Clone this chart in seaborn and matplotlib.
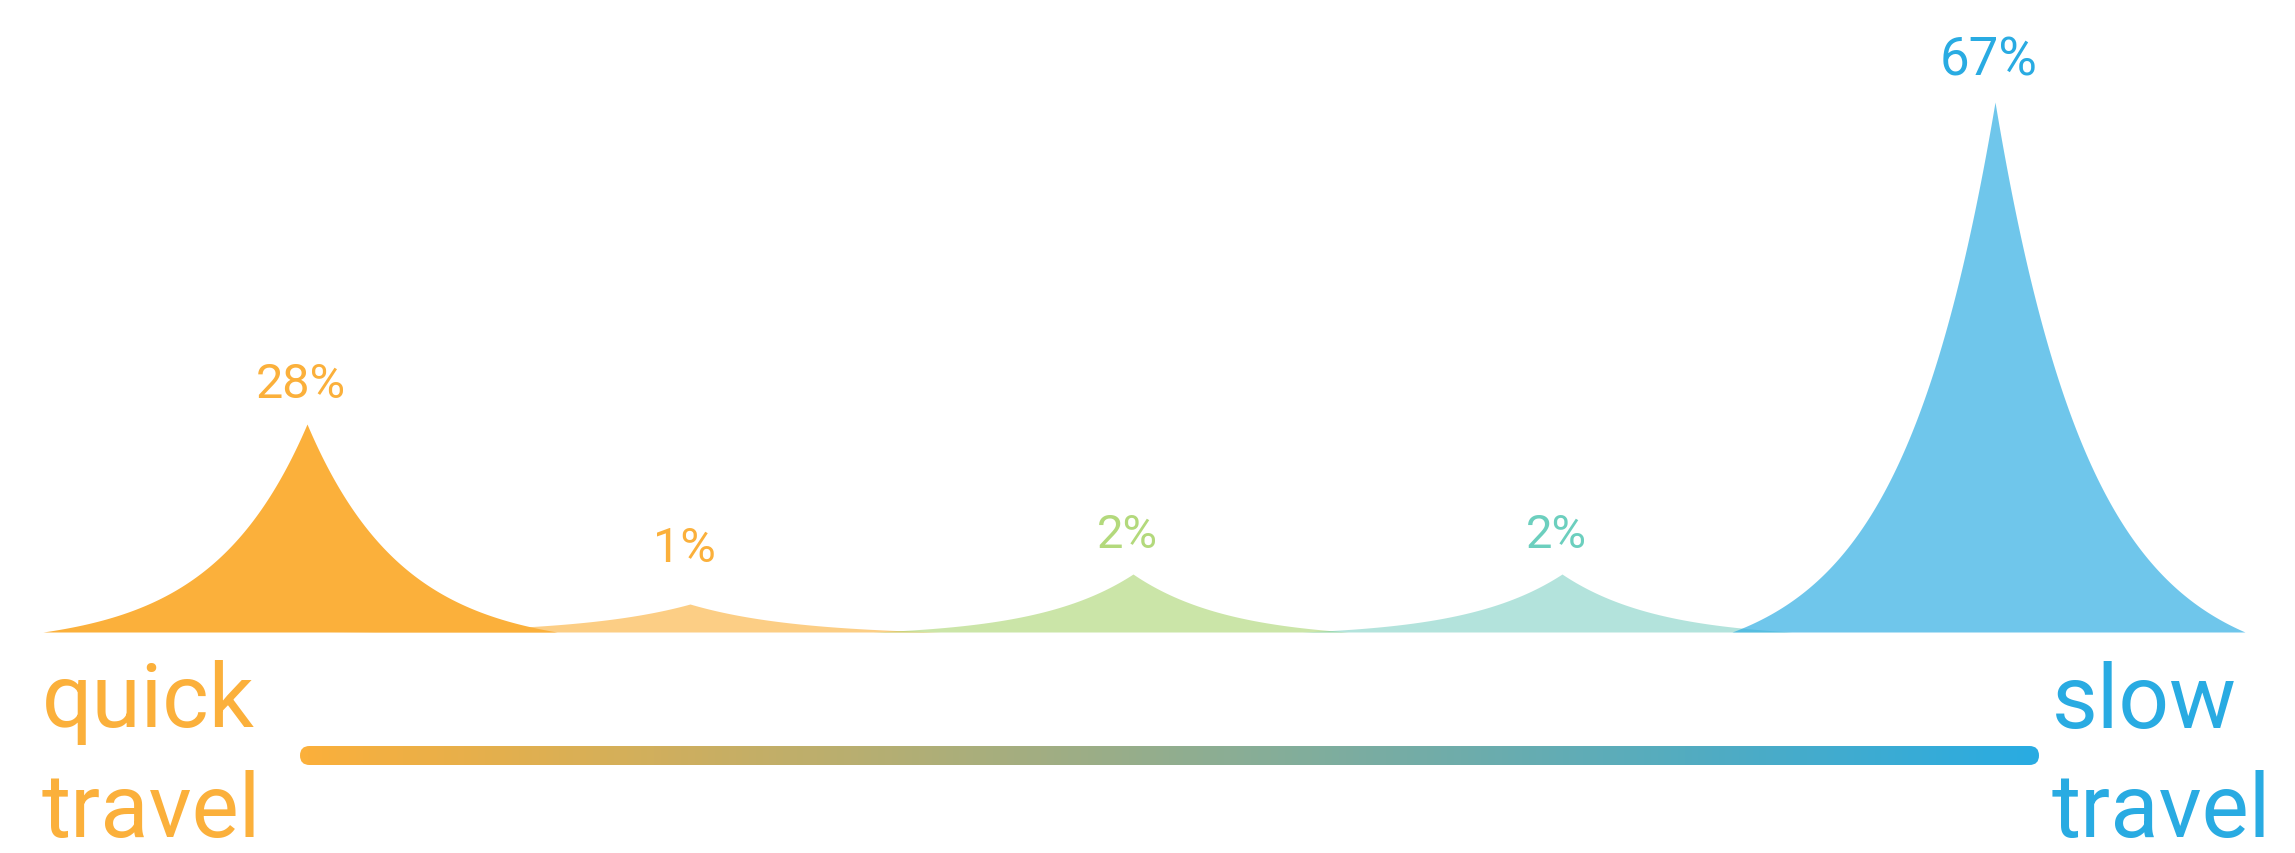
import numpy as np
import matplotlib
matplotlib.use("Agg")
import matplotlib.pyplot as plt
import seaborn as sns
from matplotlib.patches import FancyBboxPatch
from matplotlib.colors import LinearSegmentedColormap

# ---- data ----
labels = ["28%", "1%", "2%", "2%", "67%"]
peak_pos = [307, 690, 1133, 1562, 1995]      # position along the quick -> slow scale
peak_height = [208, 28, 58, 58, 530]         # drawn height of each peak
left_text = ["quick", "travel"]
right_text = ["slow", "travel"]

# ---- style ----
fill_colors = ["#FBB03B", "#FBB03B", "#8CC63F", "#4FC0AE", "#29ABE2"]
fill_alpha = [1.0, 0.62, 0.45, 0.43, 0.67]
label_colors = ["#FBB03B", "#FBB03B", "#B3D97C", "#6CCFBE", "#29ABE2"]
reach_left = [264, 360, 260, 260, 263]
reach_right = [250, 250, 215, 230, 250]
decay = [95, 105, 95, 95, 95]
label_gap = [27, 43, 27, 27, 28]
label_size = [35, 35, 34, 34, 38]
draw_order = [1, 2, 3, 4, 0]
quick_color = "#FBB03B"
slow_color = "#29ABE2"

sns.set_theme(style="white")
plt.rcParams["font.family"] = ["Roboto", "DejaVu Sans"]

fig = plt.figure(figsize=(22.95, 8.54), dpi=100)
ax = fig.add_axes([0, 0, 1, 1])
ax.set_xlim(0, 2295)
ax.set_ylim(-221, 633)
ax.axis("off")


def side(h, D, w, n=400):
    d = np.linspace(0, D, n)
    e = np.exp(-D / w)
    return d, h * (np.exp(-d / w) - e) / (1 - e)


for i in draw_order:
    c, h = peak_pos[i], peak_height[i]
    dl, yl = side(h, reach_left[i], decay[i])
    dr, yr = side(h, reach_right[i], decay[i])
    x = np.concatenate([c - dl[::-1], c + dr[1:]])
    y = np.concatenate([yl[::-1], yr[1:]])
    ax.fill_between(x, 0, y, color=fill_colors[i], alpha=fill_alpha[i], lw=0)

for i in range(len(labels)):
    ax.text(peak_pos[i] - 6, peak_height[i] + label_gap[i], labels[i],
            color=label_colors[i], fontsize=label_size[i], fontweight="normal",
            ha="center", va="baseline")

# axis words
word_kw = dict(fontsize=64, fontweight="normal", ha="left", va="baseline")
ax.text(42, -94, left_text[0], color=quick_color, **word_kw)
ax.text(42, -204, left_text[1], color=quick_color, **word_kw)
ax.text(2052, -95, right_text[0], color=slow_color, **word_kw)
ax.text(2052, -204, right_text[1], color=slow_color, **word_kw)

# gradient bar
x0, x1, yb, yt = 300, 2039, -133, -114
cmap = LinearSegmentedColormap.from_list("qs", [quick_color, slow_color])
grad = np.linspace(0, 1, 512)[None, :]
patch = FancyBboxPatch((x0, yb), x1 - x0, yt - yb,
                       boxstyle="round,pad=0,rounding_size=9.5",
                       transform=ax.transData, facecolor="none", edgecolor="none")
ax.add_patch(patch)
im = ax.imshow(grad, cmap=cmap, extent=[x0, x1, yb, yt], aspect="auto",
               interpolation="bilinear", zorder=2)
im.set_clip_path(patch)
ax.set_xlim(0, 2295)
ax.set_ylim(-221, 633)

fig.savefig("out.png", dpi=100, facecolor="white")
